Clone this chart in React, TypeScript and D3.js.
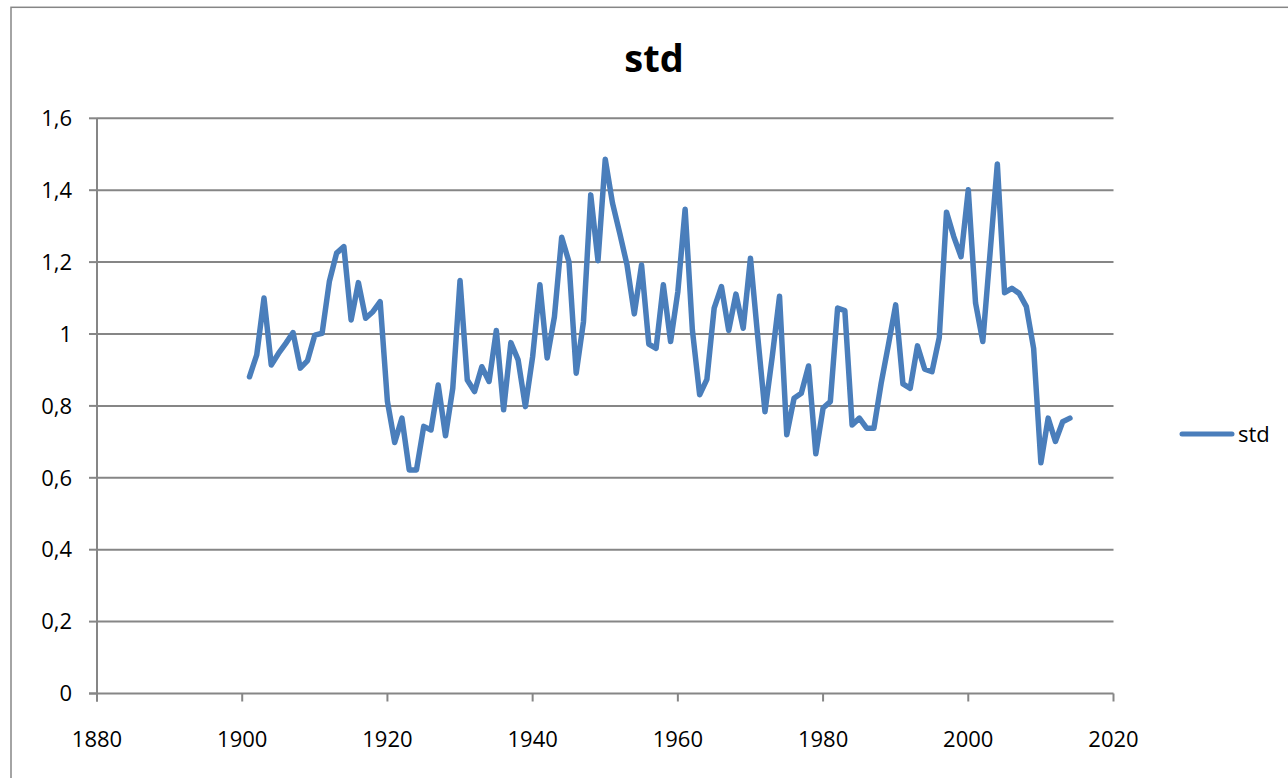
import React from "react";
import * as d3 from "d3";

const seriesName = "std";
const startYear = 1901;
const stdValues = [
  0.881, 0.942, 1.1, 0.914, 0.946, 0.974, 1.004, 0.905, 0.926, 0.997,
  1.002, 1.146, 1.225, 1.243, 1.039, 1.143, 1.044, 1.062, 1.09, 0.812,
  0.698, 0.766, 0.622, 0.622, 0.743, 0.733, 0.858, 0.717, 0.849, 1.149,
  0.872, 0.84, 0.909, 0.868, 1.01, 0.789, 0.976, 0.928, 0.798, 0.937,
  1.137, 0.933, 1.048, 1.269, 1.201, 0.891, 1.034, 1.387, 1.204, 1.486,
  1.364, 1.28, 1.192, 1.056, 1.192, 0.972, 0.96, 1.137, 0.979, 1.118,
  1.347, 1.011, 0.831, 0.874, 1.072, 1.132, 1.01, 1.111, 1.016, 1.211,
  0.993, 0.784, 0.937, 1.105, 0.72, 0.821, 0.835, 0.911, 0.667, 0.794,
  0.812, 1.072, 1.065, 0.747, 0.766, 0.738, 0.738, 0.863, 0.97, 1.081,
  0.861, 0.849, 0.967, 0.902, 0.895, 0.99, 1.339, 1.271, 1.215, 1.401,
  1.086, 0.979, 1.225, 1.473, 1.115, 1.127, 1.113, 1.076, 0.96, 0.642,
  0.766, 0.701, 0.756, 0.766,
];
const xTicks = [1880, 1900, 1920, 1940, 1960, 1980, 2000, 2020];
const yTicks = [0, 0.2, 0.4, 0.6, 0.8, 1.0, 1.2, 1.4, 1.6];

const W = 1288;
const H = 778;
const plot = { left: 97, right: 1113.5, top: 118.3, bottom: 693.5 };
const FONT = "'Open Sans', 'Liberation Sans', sans-serif";
const GRID = "#868686";
const LINE = "#4A7EBB";

export default function App() {
  const x = d3.scaleLinear().domain([1880, 2020]).range([plot.left, plot.right]);
  const y = d3.scaleLinear().domain([0, 1.6]).range([plot.bottom, plot.top]);
  const pts: [number, number][] = stdValues.map((v, i) => [startYear + i, v]);
  const line = d3
    .line<[number, number]>()
    .x((d) => x(d[0]))
    .y((d) => y(d[1]));
  const fmt = (v: number) => (v === 0 ? "0" : v % 1 === 0 ? String(v) : v.toFixed(1).replace(".", ","));

  return (
    <svg
      width={W}
      height={H}
      style={{ position: "absolute", left: 0, top: 0, display: "block", background: "#fff" }}
    >
      <rect x={0} y={0} width={W} height={H} fill="#fff" />
      <rect x={11} y={7.3} width={W + 20} height={H + 20} fill="none" stroke={GRID} strokeWidth={1.5} />
      <text
        x={654}
        y={71.5}
        textAnchor="middle"
        fontFamily={FONT}
        fontWeight="bold"
        fontSize={38}
        fill="#000"
      >
        std
      </text>
      {yTicks.map((t) => (
        <g key={"y" + t}>
          {t > 0 && (
            <line x1={plot.left} x2={plot.right} y1={y(t)} y2={y(t)} stroke={GRID} strokeWidth={2} />
          )}
          <line x1={plot.left - 8} x2={plot.left} y1={y(t)} y2={y(t)} stroke={GRID} strokeWidth={2} />
          <text
            x={72}
            y={y(t)}
            dy="0.35em"
            textAnchor="end"
            fontFamily={FONT}
            fontSize={22}
            fill="#000"
          >
            {fmt(t)}
          </text>
        </g>
      ))}
      <line x1={plot.left} x2={plot.left} y1={plot.top} y2={plot.bottom + 8} stroke={GRID} strokeWidth={2} />
      <line x1={plot.left - 8} x2={plot.right} y1={plot.bottom} y2={plot.bottom} stroke={GRID} strokeWidth={2} />
      {xTicks.map((t) => (
        <g key={"x" + t}>
          <line x1={x(t)} x2={x(t)} y1={plot.bottom} y2={plot.bottom + 8} stroke={GRID} strokeWidth={2} />
          <text
            x={x(t)}
            y={747}
            textAnchor="middle"
            fontFamily={FONT}
            fontSize={22}
            fill="#000"
          >
            {t}
          </text>
        </g>
      ))}
      <path
        d={line(pts) || ""}
        fill="none"
        stroke={LINE}
        strokeWidth={5.5}
        strokeLinejoin="round"
        strokeLinecap="round"
      />
      <line x1={1182} x2={1232} y1={434} y2={434} stroke={LINE} strokeWidth={5} strokeLinecap="round" />
      <text x={1238} y={434} dy="0.35em" fontFamily={FONT} fontSize={22} fill="#000">
        {seriesName}
      </text>
    </svg>
  );
}
